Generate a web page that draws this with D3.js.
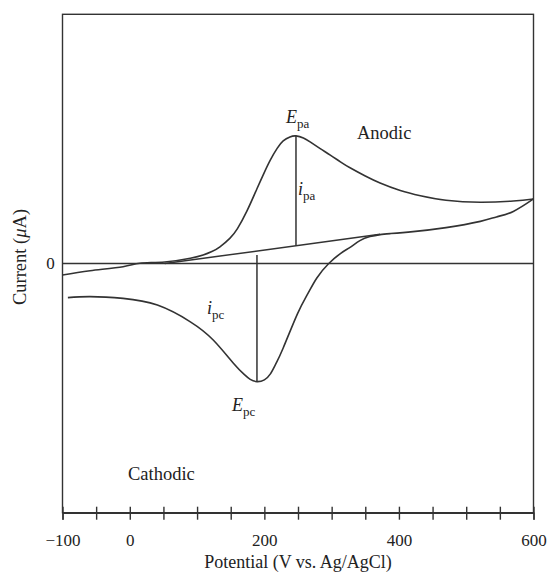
<!DOCTYPE html>
<html>
<head>
<meta charset="utf-8">
<script src="https://cdn.jsdelivr.net/npm/d3@7"></script>
<style>
  html, body { margin: 0; padding: 0; background: #fff; overflow: hidden; }
  svg { display: block; }
  text { font-family: "Liberation Serif", "DejaVu Serif", serif; fill: #222; }
</style>
</head>
<body>
<div id="plot"></div>
<script>
// cyclic voltammogram, values (mV, arbitrary current units)

const forwardE = [-100, -59, -10, 15, 52, 90, 109, 122, 134, 149, 160, 174, 189, 200, 209, 219, 228, 238, 247,
  258, 268, 283, 298, 313, 328, 350, 372, 402, 432, 470, 521, 570, 600];
const forwardI = [-0.46, -0.29, -0.13, 0.01, 0.06, 0.21, 0.34, 0.48, 0.67, 1.02, 1.40, 2.10, 3.00, 3.66, 4.16, 4.62, 4.92, 5.08, 5.12,
  5.04, 4.88, 4.61, 4.35, 4.08, 3.83, 3.51, 3.23, 2.93, 2.72, 2.54, 2.46, 2.51, 2.59];

const reverseE = [600, 570, 545, 521, 470, 421, 387, 372, 357, 342, 328, 313, 295, 278, 264, 249,
  228, 217, 209, 200, 189, 179, 170, 154, 124, 90, 41, -10, -59, -92];
const reverseI = [2.59, 2.09, 1.87, 1.69, 1.44, 1.28, 1.20, 1.16, 1.08, 0.92, 0.66, 0.40, -0.02, -0.58, -1.24, -2.03,
  -3.39, -4.03, -4.43, -4.67, -4.74, -4.65, -4.45, -4.00, -3.07, -2.34, -1.67, -1.40, -1.33, -1.37];

// extrapolated baseline under the anodic peak
const baselineE = [52, 372];
const baselineI = [0, 1.17];

// peak positions
const epa = 247, ipaTop = 5.12;
const epc = 189, ipcBottom = -4.74, ipcTop = 0.34;

const xTicks = d3.range(-100, 601, 50);
const xTickLabels = [-100, 0, 200, 400, 600];

const w = 549;
const h = 577;
const margin = {top: 14.3, right: 15.5, bottom: 64.3, left: 62.5};
const innerWidth = w - margin.left - margin.right;
const innerHeight = h - margin.top - margin.bottom;

const svg = d3.select("div#plot")
  .append("svg")
    .attr("width", w)
    .attr("height", h);

const g = svg.append("g")
    .attr("transform", `translate(${margin.left},${margin.top})`);

const xScale = d3.scaleLinear()
    .domain([-100, 600])
    .range([0, innerWidth]);

const yScale = d3.scaleLinear()
    .domain([-10, 10])
    .range([innerHeight, 0]);

const stroke = "#333";

// frame
g.append("rect")
    .attr("width", innerWidth)
    .attr("height", innerHeight)
    .attr("fill", "none")
    .attr("stroke", stroke)
    .attr("stroke-width", 1.4);

// zero line
g.append("line")
    .attr("x1", 0)
    .attr("x2", innerWidth)
    .attr("y1", yScale(0))
    .attr("y2", yScale(0))
    .attr("stroke", stroke)
    .attr("stroke-width", 1.4);

// x axis, ticks cross the line
const xAxis = d3.axisBottom(xScale)
    .tickValues(xTicks)
    .tickSize(7)
    .tickPadding(14)
    .tickFormat(d => xTickLabels.includes(d) ? d3.format("")(d).replace("-", "\u2212") : "");

const xg = g.append("g")
    .attr("transform", `translate(0,${innerHeight})`)
    .call(xAxis);

xg.select(".domain").attr("stroke", stroke).attr("stroke-width", 1.4);
xg.selectAll(".tick line")
    .attr("y1", -6)
    .attr("stroke", stroke)
    .attr("stroke-width", 1.4);
xg.selectAll(".tick text")
    .filter(d => !xTickLabels.includes(d))
    .remove();
xg.selectAll(".tick text")
    .style("font-family", "Liberation Serif")
    .style("font-size", "17px")
    .attr("fill", "#222");

// y label "0"
g.append("text")
    .attr("x", -12)
    .attr("y", yScale(0))
    .attr("dy", "0.35em")
    .attr("text-anchor", "middle")
    .style("font-size", "17px")
    .text("0");

const line = d3.line()
    .x(d => xScale(d[0]))
    .y(d => yScale(d[1]))
    .curve(d3.curveNatural);

g.append("path")
    .datum(d3.zip(forwardE, forwardI))
    .attr("d", line)
    .attr("fill", "none")
    .attr("stroke", stroke)
    .attr("stroke-width", 1.6);

g.append("path")
    .datum(d3.zip(reverseE, reverseI))
    .attr("d", line)
    .attr("fill", "none")
    .attr("stroke", stroke)
    .attr("stroke-width", 1.6);

g.append("path")
    .datum(d3.zip(baselineE, baselineI))
    .attr("d", d3.line().x(d => xScale(d[0])).y(d => yScale(d[1])))
    .attr("fill", "none")
    .attr("stroke", stroke)
    .attr("stroke-width", 1.5);

const baseAt = e => baselineI[0] + (baselineI[1] - baselineI[0]) * (e - baselineE[0]) / (baselineE[1] - baselineE[0]);

// peak current markers
g.append("line")
    .attr("x1", xScale(epa)).attr("x2", xScale(epa))
    .attr("y1", yScale(baseAt(epa))).attr("y2", yScale(ipaTop))
    .attr("stroke", stroke).attr("stroke-width", 1.5);

g.append("line")
    .attr("x1", xScale(epc)).attr("x2", xScale(epc))
    .attr("y1", yScale(ipcTop)).attr("y2", yScale(ipcBottom))
    .attr("stroke", stroke).attr("stroke-width", 1.5);

// annotations with subscripts
function label(x, y, main, sub) {
  const t = svg.append("text")
      .attr("x", x)
      .attr("y", y)
      .style("font-size", "18px");
  t.append("tspan").style("font-style", "italic").text(main);
  t.append("tspan").attr("dy", 5).style("font-size", "13px").text(sub);
}

label(286, 123, "E", "pa");
label(298, 195, "i", "pa");
label(207, 314, "i", "pc");
label(232, 411, "E", "pc");

svg.append("text")
    .attr("x", 357)
    .attr("y", 139)
    .style("font-size", "18.5px")
    .text("Anodic");

svg.append("text")
    .attr("x", 128)
    .attr("y", 480)
    .style("font-size", "18.5px")
    .text("Cathodic");

// axis titles
svg.append("text")
    .attr("x", margin.left + innerWidth / 2)
    .attr("y", 568)
    .attr("text-anchor", "middle")
    .style("font-size", "18px")
    .text("Potential (V vs. Ag/AgCl)");

const yl = svg.append("text")
    .attr("transform", `translate(26,257) rotate(-90)`)
    .attr("text-anchor", "middle")
    .style("font-size", "18.5px");
yl.append("tspan").text("Current (");
yl.append("tspan").style("font-style", "italic").text("\u03bc");
yl.append("tspan").text("A)");
</script>
</body>
</html>
